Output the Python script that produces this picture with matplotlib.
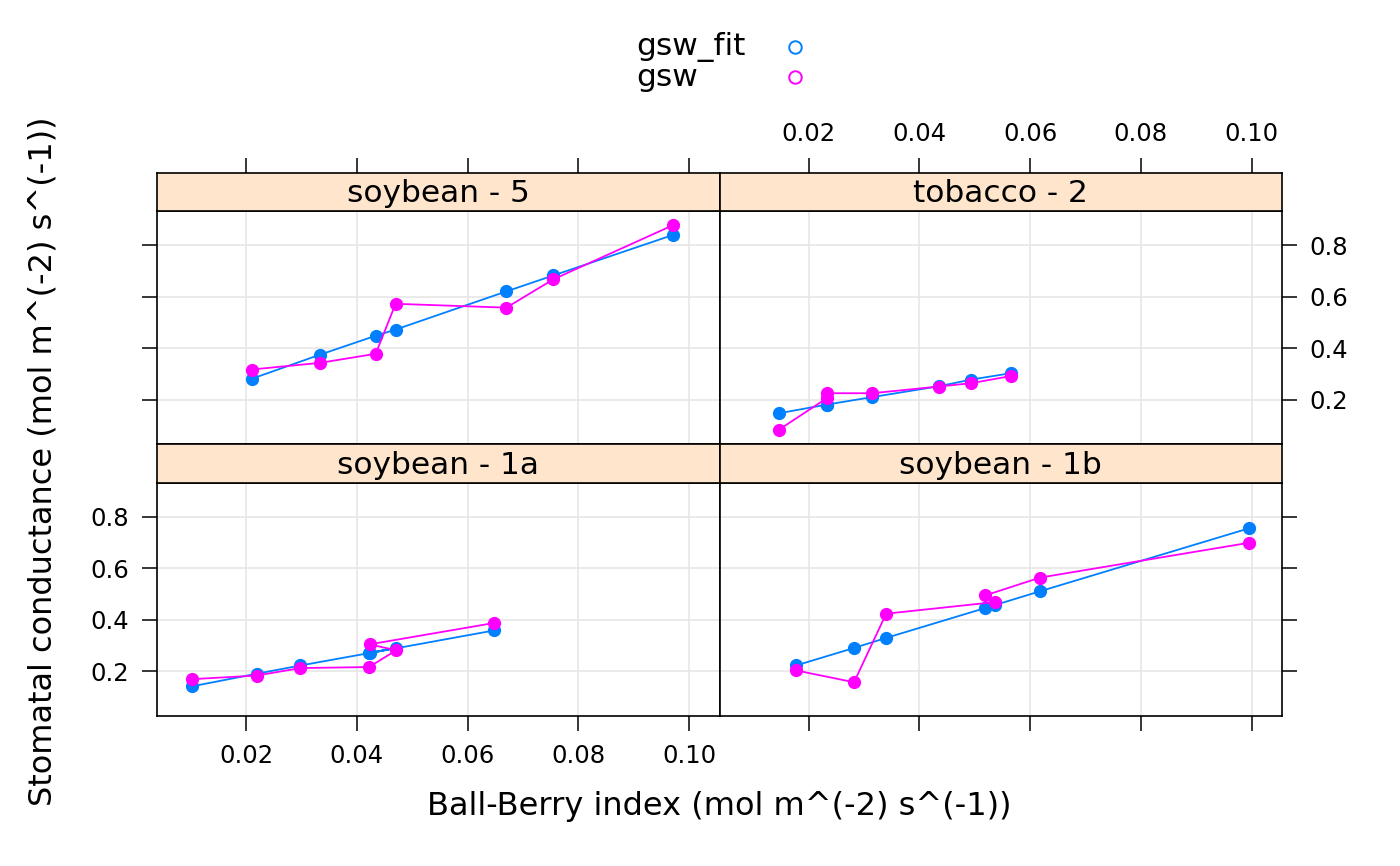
import numpy as np
import matplotlib
matplotlib.use('Agg')
from matplotlib import pyplot as plt
from matplotlib.lines import Line2D
from matplotlib.ticker import FormatStrFormatter

# Ball-Berry index and conductances, points in the order they are joined
bb_soy5 = [0.0210, 0.0334, 0.0434, 0.0470, 0.0670, 0.0755, 0.0971]
gsw_soy5 = [0.318, 0.344, 0.379, 0.573, 0.558, 0.668, 0.878]
fit_soy5 = [0.282, 0.376, 0.449, 0.473, 0.621, 0.683, 0.840]

bb_tob2 = [0.0146, 0.0233, 0.0233, 0.0315, 0.0435, 0.0494, 0.0566]
gsw_tob2 = [0.084, 0.207, 0.226, 0.226, 0.252, 0.265, 0.293]
fit_tob2 = [0.148, 0.182, 0.182, 0.211, 0.253, 0.279, 0.304]

bb_soy1a = [0.0102, 0.0219, 0.0298, 0.0422, 0.0471, 0.0423, 0.0648]
gsw_soy1a = [0.170, 0.184, 0.213, 0.217, 0.282, 0.305, 0.388]
fit_soy1a = [0.142, 0.191, 0.223, 0.271, 0.292, 0.271, 0.359]

bb_soy1b = [0.0177, 0.0282, 0.0340, 0.0536, 0.0519, 0.0618, 0.0995]
gsw_soy1b = [0.204, 0.158, 0.424, 0.469, 0.495, 0.564, 0.699]
fit_soy1b = [0.223, 0.291, 0.330, 0.457, 0.446, 0.511, 0.755]

panel_names = ['soybean - 5', 'tobacco - 2', 'soybean - 1a', 'soybean - 1b']
panel_data = [(bb_soy5, fit_soy5, gsw_soy5), (bb_tob2, fit_tob2, gsw_tob2),
              (bb_soy1a, fit_soy1a, gsw_soy1a), (bb_soy1b, fit_soy1b, gsw_soy1b)]

series_names = ['gsw_fit', 'gsw']
x_ticks = [0.02, 0.04, 0.06, 0.08, 0.10]
y_ticks = [0.2, 0.4, 0.6, 0.8]

c_fit = '#0080ff'
c_gsw = '#ff00ff'

W, H = 1400, 866
fig = plt.figure(figsize=(W/100, H/100), dpi=100)

def rect(x0, y0, w, h):
    # pixel box (top-left origin) -> figure fraction
    return [x0/W, 1 - (y0+h)/H, w/W, h/H]

col_x = [157, 719.5]
pw = 562.5
strip_top = [172.5, 444]
plot_top = [211, 482.5]
strip_h = 38.5
plot_h = 233

xlim = (0.0039, 0.1055)
ylim = (0.029, 0.933)

for k in range(4):
    r, c = k // 2, k % 2
    bb, fit, gsw = panel_data[k]

    ax = fig.add_axes(rect(col_x[c], plot_top[r], pw, plot_h))
    ax.plot(bb, fit, color=c_fit, lw=1.3, marker='o', ms=8.5, mec=c_fit)
    ax.plot(bb, gsw, color=c_gsw, lw=1.3, marker='o', ms=8.5, mec=c_gsw)
    ax.set_xlim(xlim); ax.set_ylim(ylim)
    ax.set_xticks(x_ticks); ax.set_yticks(y_ticks)
    ax.xaxis.set_major_formatter(FormatStrFormatter('%.2f'))
    ax.yaxis.set_major_formatter(FormatStrFormatter('%.1f'))
    ax.grid(color='#e6e6e6', lw=1.2)
    ax.set_axisbelow(True)
    ax.tick_params(direction='out', length=10.8, width=1.1, labelsize=17.5, pad=9,
                   left=(c == 0), labelleft=(c == 0 and r == 1),
                   right=(c == 1), labelright=(c == 1 and r == 0),
                   bottom=(r == 1), labelbottom=(r == 1 and c == 0),
                   top=False, labeltop=False)
    ax.tick_params(axis='x', pad=10)
    ax.tick_params(axis='y', which='both', labelright=(c == 1 and r == 0))
    for s in ax.spines.values():
        s.set_linewidth(1.2)

    st = fig.add_axes(rect(col_x[c], strip_top[r], pw, strip_h))
    st.set_facecolor('#ffe5cc')
    st.set_xlim(xlim)
    st.set_xticks(x_ticks)
    st.xaxis.set_major_formatter(FormatStrFormatter('%.2f'))
    st.set_yticks([])
    st.tick_params(direction='out', length=10.8, width=1.1, labelsize=17.5, pad=8,
                   bottom=False, labelbottom=False,
                   top=(r == 0), labeltop=(r == 0 and c == 1))
    for s in st.spines.values():
        s.set_linewidth(1.2)
    st.text(0.5, 0.45, panel_names[k], ha='center', va='center', fontsize=22.5,
            transform=st.transAxes)

fig.text(719/W, 1 - 807/H, 'Ball-Berry index (mol m^(-2) s^(-1))',
         ha='center', va='center', fontsize=23)
fig.text(43/W, 1 - 461/H, 'Stomatal conductance (mol m^(-2) s^(-1))',
         ha='center', va='center', fontsize=23, rotation=90)

# key: text on the left, open circle on the right
key_y = [47, 77]
for name, col, ky in zip(series_names, [c_fit, c_gsw], key_y):
    fig.text(636/W, 1 - ky/H, name, ha='left', va='center', fontsize=22.5)
    fig.add_artist(Line2D([795/W], [1 - ky/H], transform=fig.transFigure, ls='none',
                          marker='o', mfc='none', mec=col, ms=9, mew=1.4))

fig.savefig('out.png', dpi=100)
